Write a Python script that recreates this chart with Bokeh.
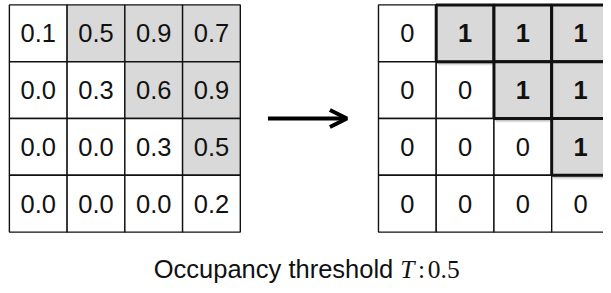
from bokeh.plotting import figure
from bokeh.models import Range1d, Arrow, OpenHead, ColumnDataSource
from bokeh.core.properties import value
from bokeh.embed import file_html
from bokeh.resources import INLINE

# ---- data ----
occupancy = [
    [0.1, 0.5, 0.9, 0.7],
    [0.0, 0.3, 0.6, 0.9],
    [0.0, 0.0, 0.3, 0.5],
    [0.0, 0.0, 0.0, 0.2],
]
threshold = 0.5
caption_prefix = "Occupancy threshold"
caption_symbol = "T"
caption_value = "0.5"

# ---- layout constants (reference-image pixel space) ----
CELL_W = 58.5
CELL_H = 58.4
LEFT_X0 = 9.0
RIGHT_X0 = 383.0
GRID_Y0 = 4.5
SHADE = "#d9d9d9"
FONT = "Liberation Sans"
SERIF = "Liberation Serif"
FS = "25.5px"
INK = "#111111"

p = figure(width=603, height=285, output_backend="svg", toolbar_location=None,
           x_range=Range1d(0, 611), y_range=Range1d(293, 0), min_border=0)
p.axis.visible = False
p.grid.visible = False
p.outline_line_color = None
p.background_fill_color = "white"
p.border_fill_color = "white"

n = len(occupancy)
binary = [[1 if v >= threshold else 0 for v in row] for row in occupancy]

def cells(x0, grid, fmt):
    xs, ys, txt, on = [], [], [], []
    for i in range(n):
        for j in range(n):
            xs.append(x0 + (j + 0.5) * CELL_W)
            ys.append(GRID_Y0 + (i + 0.5) * CELL_H)
            txt.append(fmt(grid[i][j]))
            on.append(occupancy[i][j] >= threshold)
    return xs, ys, txt, on

# left grid
lx, ly, lt, lon = cells(LEFT_X0, occupancy, lambda v: f"{v:.1f}")
p.rect(lx, ly, width=CELL_W, height=CELL_H,
       fill_color=[SHADE if o else "white" for o in lon],
       line_color=INK, line_width=1.4)
p.text(lx, ly, text=lt, text_align="center", text_baseline="middle",
       text_font=value(FONT), text_font_size=FS, text_color=INK)

# right grid
rx, ry, rt, ron = cells(RIGHT_X0, binary, lambda v: f"{v}")
p.rect(rx, ry, width=CELL_W, height=CELL_H, fill_color="white",
       line_color=INK, line_width=1.4)
sx = [x for x, o in zip(rx, ron) if o]
sy = [y for y, o in zip(ry, ron) if o]
for k, a in [(4.5, 0.07), (3.5, 0.12), (2.5, 0.18)]:
    p.rect([x + k * 0.5 for x in sx], [y + k for y in sy], width=CELL_W, height=CELL_H,
           fill_color="#555555", fill_alpha=a, line_color=None)
p.rect(sx, sy, width=CELL_W, height=CELL_H, fill_color=SHADE,
       line_color=INK, line_width=3)
src0 = ColumnDataSource(dict(x=[x for x, o in zip(rx, ron) if not o],
                             y=[y for y, o in zip(ry, ron) if not o],
                             t=[t for t, o in zip(rt, ron) if not o]))
p.text("x", "y", text="t", source=src0, text_align="center", text_baseline="middle",
       text_font=value(FONT), text_font_size=FS, text_color=INK)
src1 = ColumnDataSource(dict(x=sx, y=sy, t=[t for t, o in zip(rt, ron) if o]))
p.text("x", "y", text="t", source=src1, text_align="center", text_baseline="middle",
       text_font=value(FONT), text_font_size=FS, text_font_style="bold",
       text_color=INK)

# arrow
mid_y = GRID_Y0 + n * CELL_H / 2
p.add_layout(Arrow(end=OpenHead(size=17, line_width=4, line_color="black"),
                   x_start=271, y_start=mid_y, x_end=351, y_end=mid_y,
                   line_width=4, line_color="black"))

# caption
cap_y = 276.5
p.text([398], [cap_y], text=[caption_prefix], text_align="right",
       text_baseline="middle", text_font=value(FONT), text_font_size=FS,
       text_color=INK)
p.text([405], [cap_y], text=[caption_symbol], text_align="left",
       text_baseline="middle", text_font=value(SERIF), text_font_size=FS,
       text_font_style="italic", text_color=INK)
p.text([423], [cap_y], text=[":"], text_align="left",
       text_baseline="middle", text_font=value(SERIF), text_font_size=FS,
       text_color=INK)
p.text([433], [cap_y], text=[caption_value], text_align="left",
       text_baseline="middle", text_font=value(SERIF), text_font_size=FS,
       text_color=INK)

open("out.html", "w").write(file_html(p, INLINE))
